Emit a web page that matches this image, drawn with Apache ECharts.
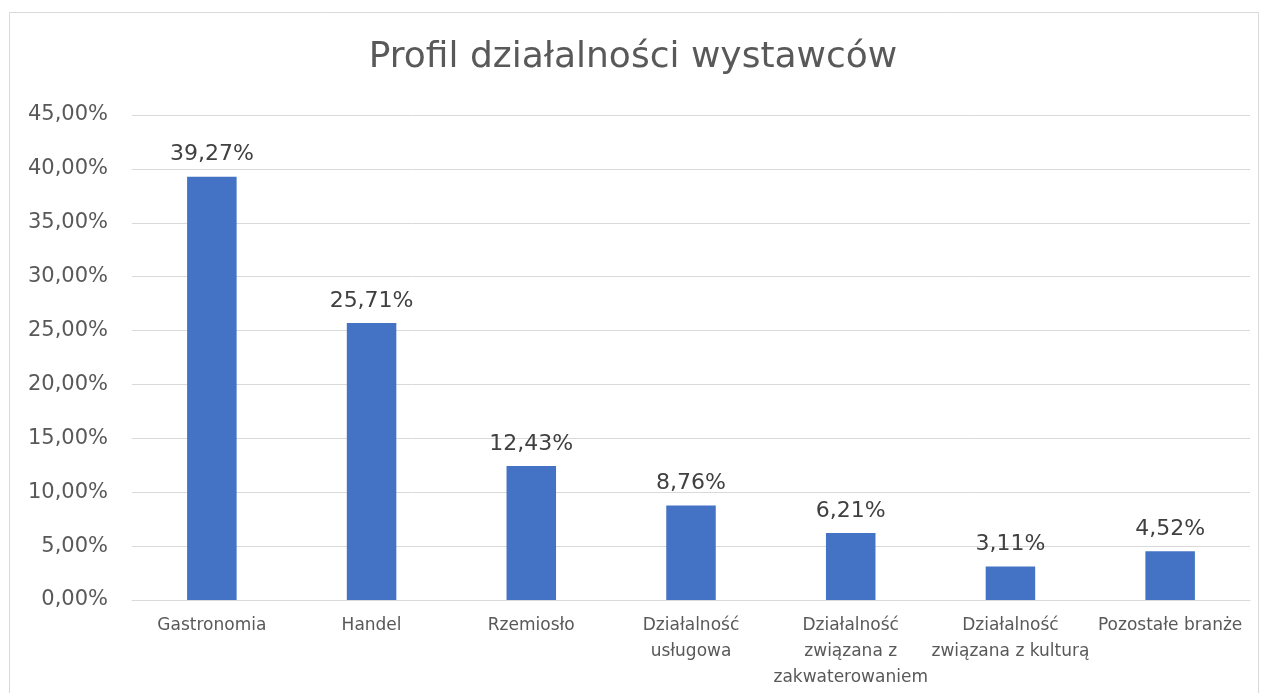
<!DOCTYPE html>
<html>
<head>
<meta charset="utf-8">
<script src="https://cdn.jsdelivr.net/npm/echarts@6/dist/echarts.min.js"></script>
<style>
  html, body { margin: 0; padding: 0; background: #fff; }
  #chart { width: 1266px; height: 693px; }
</style>
</head>
<body>
<div id="chart"></div>
<script>
// dane wykresu
const categories = [
  'Gastronomia',
  'Handel',
  'Rzemiosło',
  'Działalność\nusługowa',
  'Działalność\nzwiązana z\nzakwaterowaniem',
  'Działalność\nzwiązana z kulturą',
  'Pozostałe branże'
];
const values = [39.27, 25.71, 12.43, 8.76, 6.21, 3.11, 4.52];

const fmt = v => v.toFixed(2).replace('.', ',') + '%';
const font = '"DejaVu Sans", sans-serif';

const chart = echarts.init(document.getElementById('chart'));
chart.setOption({
  backgroundColor: '#fff',
  animation: false,
  textStyle: { fontFamily: font },
  graphic: [{
    type: 'rect',
    shape: { x: 9.5, y: 12.5, width: 1249, height: 700 },
    style: { fill: 'none', stroke: '#d9d9d9', lineWidth: 1 },
    silent: true
  }],
  title: {
    text: 'Profil działalności wystawców',
    left: 'center',
    top: 35,
    textStyle: { color: '#595959', fontSize: 36, fontWeight: 'normal', fontFamily: font }
  },
  grid: { left: 132, right: 16, top: 115, bottom: 93 },
  xAxis: {
    type: 'category',
    data: categories,
    axisLine: { lineStyle: { color: '#d9d9d9' } },
    axisTick: { show: false },
    axisLabel: {
      interval: 0,
      color: '#595959',
      fontSize: 17,
      lineHeight: 26,
      margin: 13,
      fontFamily: font
    }
  },
  yAxis: {
    type: 'value',
    min: 0,
    max: 45,
    interval: 5,
    axisLine: { show: false },
    axisTick: { show: false },
    splitLine: { lineStyle: { color: '#d9d9d9' } },
    axisLabel: {
      color: '#595959',
      fontSize: 21,
      margin: 24,
      formatter: v => fmt(v),
      fontFamily: font
    }
  },
  series: [{
    type: 'bar',
    data: values,
    barWidth: '31%',
    itemStyle: { color: '#4472c4' },
    label: {
      show: true,
      position: 'top',
      distance: 11,
      color: '#404040',
      fontSize: 22,
      formatter: p => fmt(p.value),
      fontFamily: font
    }
  }]
});
</script>
</body>
</html>
